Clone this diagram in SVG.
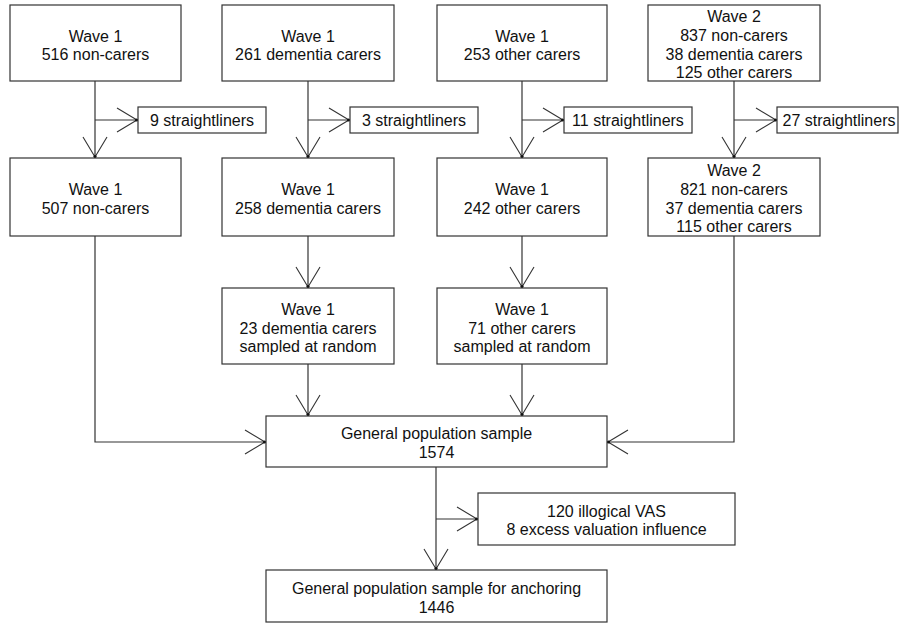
<svg xmlns="http://www.w3.org/2000/svg" width="899" height="624" viewBox="0 0 899 624">
<style>
.box{fill:#fff;stroke:#333;stroke-width:1.2}
.t{font-family:"Liberation Sans",Arial,sans-serif;font-size:16px;fill:#111;text-anchor:middle}
.c{fill:none;stroke:#333;stroke-width:1.2}
</style>
<defs>
<marker id="arr" markerUnits="userSpaceOnUse" markerWidth="30" markerHeight="30" viewBox="-22 -15 26 30" refX="0" refY="0" orient="auto">
<path d="M-20,-12 L0,0 L-20,12" fill="none" stroke="#333" stroke-width="1.1"/>
<circle cx="-0.5" cy="0" r="1.6" fill="#111"/>
</marker>
</defs>
<rect width="899" height="624" fill="#fff"/>
<g id="connectors">
<path class="c" d="M95,81 V157" marker-end="url(#arr)"/>
<path class="c" d="M95,120 H137" marker-end="url(#arr)"/>
<path class="c" d="M308,81 V157" marker-end="url(#arr)"/>
<path class="c" d="M308,120 H349" marker-end="url(#arr)"/>
<path class="c" d="M522,81 V157" marker-end="url(#arr)"/>
<path class="c" d="M522,120 H563" marker-end="url(#arr)"/>
<path class="c" d="M734,81 V157" marker-end="url(#arr)"/>
<path class="c" d="M734,120 H776" marker-end="url(#arr)"/>
<path class="c" d="M308,236 V287" marker-end="url(#arr)"/>
<path class="c" d="M522,236 V287" marker-end="url(#arr)"/>
<path class="c" d="M308,364 V415" marker-end="url(#arr)"/>
<path class="c" d="M522,364 V415" marker-end="url(#arr)"/>
<path class="c" d="M95,236 V442 H265" marker-end="url(#arr)"/>
<path class="c" d="M734,236 V442 H608" marker-end="url(#arr)"/>
<path class="c" d="M436,467 V569" marker-end="url(#arr)"/>
<path class="c" d="M436,519 H477" marker-end="url(#arr)"/>
</g>
<g id="n1"><rect class="box" x="10" y="5" width="171" height="76"/><text class="t" x="95.5" y="41.5">Wave 1</text><text class="t" x="95.5" y="59.5">516 non-carers</text></g>
<g id="n2"><rect class="box" x="222" y="5" width="172" height="76"/><text class="t" x="308" y="41.5">Wave 1</text><text class="t" x="308" y="59.5">261 dementia carers</text></g>
<g id="n3"><rect class="box" x="437" y="5" width="170" height="76"/><text class="t" x="522" y="41.5">Wave 1</text><text class="t" x="522" y="59.5">253 other carers</text></g>
<g id="n4"><rect class="box" x="648" y="5" width="172" height="76"/><text class="t" x="734" y="22">Wave 2</text><text class="t" x="734" y="41">837 non-carers</text><text class="t" x="734" y="59.5">38 dementia carers</text><text class="t" x="734" y="78">125 other carers</text></g>
<g id="s1"><rect class="box" x="138" y="107" width="128" height="26"/><text class="t" x="202" y="126">9 straightliners</text></g>
<g id="s2"><rect class="box" x="350" y="107" width="128" height="26"/><text class="t" x="414" y="126">3 straightliners</text></g>
<g id="s3"><rect class="box" x="564" y="107" width="128" height="26"/><text class="t" x="628" y="126">11 straightliners</text></g>
<g id="s4"><rect class="box" x="777" y="107" width="121" height="26"/><text class="t" x="839" y="126">27 straightliners</text></g>
<g id="m1"><rect class="box" x="10" y="158" width="171" height="78"/><text class="t" x="95.5" y="195">Wave 1</text><text class="t" x="95.5" y="214">507 non-carers</text></g>
<g id="m2"><rect class="box" x="222" y="158" width="172" height="78"/><text class="t" x="308" y="195">Wave 1</text><text class="t" x="308" y="214">258 dementia carers</text></g>
<g id="m3"><rect class="box" x="437" y="158" width="170" height="78"/><text class="t" x="522" y="195">Wave 1</text><text class="t" x="522" y="214">242 other carers</text></g>
<g id="m4"><rect class="box" x="648" y="158" width="172" height="78"/><text class="t" x="734" y="175.5">Wave 2</text><text class="t" x="734" y="194.5">821 non-carers</text><text class="t" x="734" y="213.5">37 dementia carers</text><text class="t" x="734" y="232">115 other carers</text></g>
<g id="r2"><rect class="box" x="222" y="288" width="172" height="76"/><text class="t" x="308" y="315">Wave 1</text><text class="t" x="308" y="333.5">23 dementia carers</text><text class="t" x="308" y="352">sampled at random</text></g>
<g id="r3"><rect class="box" x="437" y="288" width="170" height="76"/><text class="t" x="522" y="315">Wave 1</text><text class="t" x="522" y="333.5">71 other carers</text><text class="t" x="522" y="352">sampled at random</text></g>
<g id="gp"><rect class="box" x="266" y="416" width="341" height="51"/><text class="t" x="436.5" y="439">General population sample</text><text class="t" x="436.5" y="458">1574</text></g>
<g id="ex"><rect class="box" x="478" y="493" width="257" height="52"/><text class="t" x="606.5" y="516.5">120 illogical VAS</text><text class="t" x="606.5" y="535">8 excess valuation influence</text></g>
<g id="gpa"><rect class="box" x="266" y="570" width="341" height="52"/><text class="t" x="436.5" y="593.5">General population sample for anchoring</text><text class="t" x="436.5" y="612.5">1446</text></g>
</svg>
